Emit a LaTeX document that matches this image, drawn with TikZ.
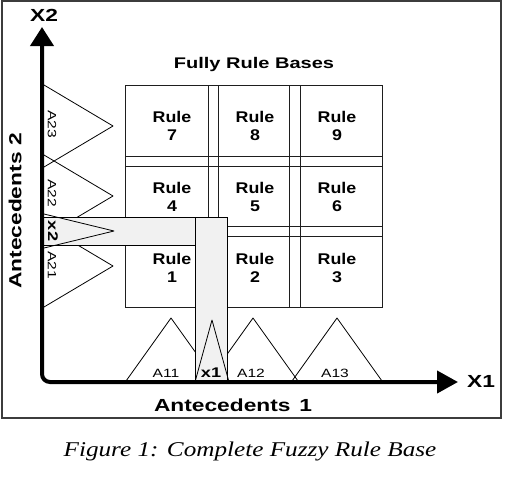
\documentclass[tikz,border=0pt]{standalone}
\usepackage{fontspec}
\newfontfamily\figsans{Liberation Sans}[FakeStretch=1.15]
\newfontfamily\figwide{Liberation Sans}[FakeStretch=1.3]
\newfontfamily\capserif{Liberation Serif}[FakeStretch=1.2]
\usepackage{xcolor}
\definecolor{BandGray}{RGB}{241,241,241}
\definecolor{FrameGray}{RGB}{60,60,60}
\definecolor{GridBlack}{RGB}{30,30,30}
\usetikzlibrary{arrows.meta, positioning}
\tikzset{
  % Axes with filled heads
  axisline/.style={
    line width=4pt, rounded corners=8pt,
    {Triangle[length=19pt,width=23pt]}-{Triangle[length=21pt,width=22pt]}
  },
  % Membership triangles
  mfline/.style={line width=0.8pt, line join=round},
  % Rule grid
  gridline/.style={line width=0.9pt, GridBlack},
  % Shaded input strip
  band/.style={fill=BandGray, draw=black, line width=0.9pt},
  % Text
  axislabel/.style={font=\figwide\bfseries\fontsize{17.5}{20}\selectfont, inner sep=0pt},
  titlelabel/.style={font=\figwide\bfseries\fontsize{15.4}{18}\selectfont, inner sep=0pt},
  rulelabel/.style={font=\figsans\bfseries\fontsize{15.5}{18}\selectfont, align=center, inner sep=0pt},
  setlabel/.style={font=\figwide\fontsize{12}{14}\selectfont, inner sep=0pt},
  inlabel/.style={font=\figwide\bfseries\fontsize{14}{16}\selectfont, inner sep=0pt},
  caplabel/.style={font=\capserif\itshape\fontsize{21}{24}\selectfont, inner sep=0pt},
}
\begin{document}
\begin{tikzpicture}[x=1pt, y=-1pt]
  \useasboundingbox (0,0) rectangle (518,488);

  %% Frame
  \draw[FrameGray, line width=1.3pt] (2,1) rectangle (501,418);

  %% Rule grid
  \draw[gridline] (125,85) rectangle (382,307);
  \foreach \gx in {208,218,289,300}
    \draw[gridline] (\gx,85) -- (\gx,307);
  \foreach \gy in {156,166,226,236}
    \draw[gridline] (125,\gy) -- (382,\gy);

  %% Antecedent sets on X1
  \foreach \cx in {171,253,337}
    \draw[mfline] (\cx-45,381) -- (\cx,318) -- (\cx+45,381);

  %% Antecedent sets on X2
  \foreach \cy in {126,196,266}
    \draw[mfline] (44,\cy-41) -- (113,\cy) -- (44,\cy+41);

  %% Input strips
  \draw[band] (42,217) rectangle (195,245);
  \draw[band] (195,217) rectangle (227,382);
  \draw[mfline] (195,382) -- (212,320) -- (229,382);
  \draw[mfline] (44,214) -- (114,231) -- (44,248);

  %% Axes
  \coordinate (origin) at (42,382);
  \coordinate (x2end) at (42,27);
  \coordinate (x1end) at (458,382);
  \draw[axisline] (x2end) -- (origin) -- (x1end);

  %% Labels
  \node[axislabel] (X2) at (44,15) {X2};
  \node[axislabel] (X1) at (481,381) {X1};
  \node[axislabel] (ant1) at (233,405) {Antecedents\enspace 1};
  \node[axislabel, rotate=90] (ant2) at (15,211) {Antecedents 2};
  \node[titlelabel] (title) at (254,65) {Fully Rule Bases};

  \foreach \i/\rx/\ry in {1/172/268, 2/255/268, 3/337/268,
                          4/172/197, 5/255/197, 6/337/197,
                          7/172/126, 8/255/126, 9/337/126}
    \node[rulelabel] (rule\i) at (\rx,\ry) {Rule\\\i};

  \node[setlabel] (A11) at (166,373) {A11};
  \node[setlabel] (A12) at (251,373) {A12};
  \node[setlabel] (A13) at (335,373) {A13};
  \node[setlabel, rotate=-90] (A21) at (52,265) {A21};
  \node[setlabel, rotate=-90] (A22) at (52,193) {A22};
  \node[setlabel, rotate=-90] (A23) at (52,124) {A23};

  \node[inlabel] (x1) at (211,373) {x1};
  \node[inlabel, rotate=-90] (x2) at (53,231) {x2};

  \node[caplabel] (cap) at (250,451) {Figure 1: Complete Fuzzy Rule Base};

\end{tikzpicture}
\end{document}
